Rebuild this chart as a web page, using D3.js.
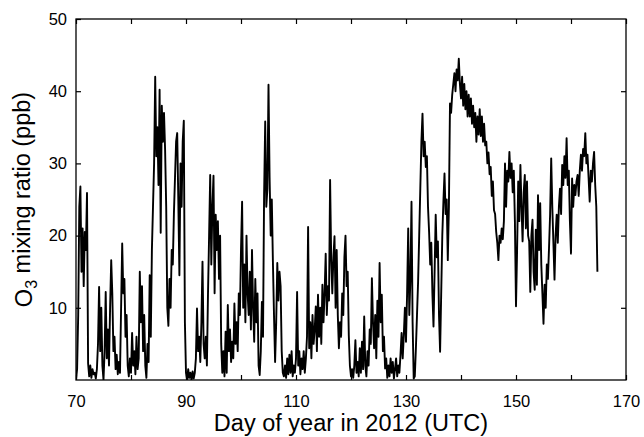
<!DOCTYPE html>
<html>
<head>
<meta charset="utf-8">
<script src="https://cdn.jsdelivr.net/npm/d3@7"></script>
<style>
body { margin: 0; background: #fff; }
text { font-family: "Liberation Sans", Arial, sans-serif; fill: #000; }
</style>
</head>
<body>
<svg width="644" height="437"></svg>
<script>
// O3 readings (ppb), one value every 0.2 day, in blocks of 10 days
var stepDays = 0.2;
var blockStarts = [70, 80, 90, 100, 110, 120, 130, 140, 150, 160];

var o3Day070 = [0, 1.5, 9, 24, 26.8, 15, 21, 13, 20.5, 18,
    25.9, 2.3, 0.5, 2, 0.3, 1.5, 0.8, 1, 0.2, 1.5,
    5, 12.9, 4, 10, 2, 0, 4, 12.2, 3, 7,
    2, 10, 16.6, 12, 4, 6, 1.5, 3.5, 0.8, 2.5,
    1, 10, 18.9, 12, 14, 6, 9, 2, 0.5, 3];
var o3Day080 = [1, 6.5, 2, 4, 0.8, 6, 1.5, 3, 15, 8,
    13, 4, 9, 2, 0.3, 5, 2.5, 14.5, 6, 18,
    24, 30, 42, 31, 35, 27, 40.2, 20.4, 38, 33,
    37, 31.9, 24, 10, 7.5, 14, 10, 18, 16, 23,
    28, 33, 34.2, 25, 14.5, 30, 24, 33, 35.9, 8];
var o3Day090 = [1, 0, 1.5, 0.3, 1, 0, 1.2, 0.2, 1, 3,
    9.9, 4, 6, 2.5, 8, 16.4, 5, 3, 6, 2,
    12, 20, 28.4, 16, 24, 28.3, 12, 22.9, 18, 22,
    14, 20, 5, 1, 4, 0.5, 6.7, 1, 10.4, 4,
    7, 2.5, 5.3, 3, 10.6, 5, 8, 4, 12, 9];
var o3Day100 = [18, 24.7, 10, 16, 8, 20, 12, 9, 15, 7,
    18, 10, 5.3, 14, 8, 12, 2, 0.7, 4, 10.8,
    6, 25.6, 35.8, 24, 26.5, 40.9, 28, 20, 25, 16.4,
    9, 2.5, 8, 16.2, 11, 15, 13, 4, 1, 0.5,
    2, 0.3, 3, 0.8, 3.5, 1, 4, 0.5, 2, 1];
var o3Day110 = [3, 12.2, 2, 4, 0.8, 3, 1.5, 4, 1, 3,
    6, 21.2, 4.4, 8, 3, 9, 5, 7, 10.2, 4,
    11.8, 6, 10, 5, 13.2, 8, 12, 17.5, 9, 13,
    11, 27.7, 16.8, 12, 17, 19.9, 10, 18, 9, 4.4,
    8, 6, 12, 9, 17, 20, 13, 15, 6.2, 2];
var o3Day120 = [0.5, 1.5, 0.3, 2, 5.5, 1, 2.5, 0.5, 4.4, 1,
    5.3, 1.5, 8.8, 2, 0.5, 4, 2, 7, 5, 14.1,
    8, 4.4, 9, 3, 11, 6, 16.2, 8, 11.8, 4,
    6, 1.6, 3, 0.3, 2, 0.5, 3, 1, 2.5, 0.2,
    1.5, 3, 0.5, 2, 1, 3.5, 6.5, 3, 6.2, 10];
var o3Day130 = [5.3, 12, 21, 9, 14, 24.7, 8, 0.2, 0.5, 4.4,
    9, 13.6, 20, 26.5, 33, 36.9, 31, 33, 29.5, 31,
    24, 20.5, 16, 19, 12, 7.4, 15, 22.9, 17, 19.2,
    9, 3.9, 12, 20, 24.7, 28.6, 23, 25, 16.6, 24,
    38.3, 37, 39.5, 41, 42.5, 40, 43, 41.5, 44.5, 41];
var o3Day140 = [39, 42, 38, 41, 37.5, 40, 36.5, 39.5, 36.5, 39,
    35.5, 38, 35, 37, 33, 36.5, 34, 37.5, 33.8, 36.5,
    33, 35.5, 32.5, 33, 30, 31.5, 28.5, 29.5, 25.5, 27.5,
    23.5, 23, 20.5, 19, 16.6, 20, 19, 21, 19.5, 22,
    30, 24, 29, 27.5, 31.6, 28, 30, 26, 29, 22];
var o3Day150 = [10.2, 18, 27.5, 22, 29.8, 24, 19.2, 26, 28.4, 21,
    27.5, 20, 19.2, 12.2, 20, 22.2, 15, 12.5, 20.8, 13.2,
    25.6, 18, 24.5, 16, 12, 7.8, 13.2, 10, 16, 14,
    18.2, 22.9, 30.7, 24, 19, 13.9, 20, 22.9, 19, 24,
    26.5, 23, 29.8, 27, 31, 28, 33.5, 27, 29, 22];
var o3Day160 = [17.5, 27.9, 24, 27, 25.6, 27.5, 28.4, 25.5, 29, 31.2,
    29, 32, 31, 34.2, 30, 31.2, 28, 24.7, 29, 27.5,
    30, 31.6, 27, 24, 15];

var xTickValues = [70, 80, 90, 100, 110, 120, 130, 140, 150, 160, 170];
var xLabelValues = [70, 90, 110, 130, 150, 170];
var yTickValues = [10, 20, 30, 40, 50];

var svg = d3.select('svg');
var svgWidth = +svg.attr('width');
var svgHeight = +svg.attr('height');

var padding = {t: 19, r: 18, b: 57, l: 76};
var chartWidth = svgWidth - padding.l - padding.r;
var chartHeight = svgHeight - padding.t - padding.b;

var xScale = d3.scaleLinear().domain([70, 170]).range([0, chartWidth]);
var yScale = d3.scaleLinear().domain([0, 50]).range([chartHeight, 0]);

var chart = svg.append('g')
    .attr('transform', 'translate(' + [padding.l, padding.t] + ')');

// build the time series from the blocks
var blocks = [o3Day070, o3Day080, o3Day090, o3Day100, o3Day110,
    o3Day120, o3Day130, o3Day140, o3Day150, o3Day160];
var series = [];
blocks.forEach(function(block, b) {
    block.forEach(function(v, i) {
        series.push({day: blockStarts[b] + i * stepDays, value: v});
    });
});

chart.append('clipPath').attr('id', 'plotClip')
    .append('rect').attr('width', chartWidth).attr('height', chartHeight);

var line = d3.line()
    .x(function(d) { return xScale(d.day); })
    .y(function(d) { return yScale(d.value); });

chart.append('path')
    .datum(series)
    .attr('clip-path', 'url(#plotClip)')
    .attr('d', line)
    .attr('fill', 'none')
    .attr('stroke', '#000')
    .attr('stroke-width', 1.9)
    .attr('stroke-linejoin', 'round');

// axes, ticks pointing inward
function labelFormat(d) { return xLabelValues.indexOf(d) >= 0 ? d : ''; }

var xAxisBottom = d3.axisBottom(xScale).tickValues(xTickValues)
    .tickSizeInner(-5).tickSizeOuter(0).tickPadding(15).tickFormat(labelFormat);
var xAxisTop = d3.axisTop(xScale).tickValues(xTickValues)
    .tickSizeInner(-5).tickSizeOuter(0).tickFormat('');
var yAxisLeft = d3.axisLeft(yScale).tickValues(yTickValues)
    .tickSizeInner(-5).tickSizeOuter(0).tickPadding(9);
var yAxisRight = d3.axisRight(yScale).tickValues([10, 20, 30, 40])
    .tickSizeInner(-5).tickSizeOuter(0).tickFormat('');

chart.append('g').attr('transform', 'translate(0,' + chartHeight + ')').call(xAxisBottom);
chart.append('g').call(xAxisTop);
chart.append('g').call(yAxisLeft);
chart.append('g').attr('transform', 'translate(' + chartWidth + ',0)').call(yAxisRight);

chart.selectAll('.domain').remove();
chart.selectAll('.tick line').attr('stroke', '#000').attr('stroke-width', 1.2);
chart.selectAll('.tick text')
    .attr('font-family', '"Liberation Sans", Arial, sans-serif')
    .attr('font-size', 16.5)
    .attr('fill', '#000');

chart.append('rect')
    .attr('width', chartWidth)
    .attr('height', chartHeight)
    .attr('fill', 'none')
    .attr('stroke', '#000')
    .attr('stroke-width', 1.3);

// axis titles
svg.append('text')
    .attr('x', padding.l + chartWidth / 2)
    .attr('y', 431)
    .attr('text-anchor', 'middle')
    .attr('font-size', 23.5)
    .text('Day of year in 2012 (UTC)');

var yTitle = svg.append('text')
    .attr('transform', 'translate(' + [32, padding.t + chartHeight / 2] + ')rotate(-90)')
    .attr('text-anchor', 'middle')
    .attr('font-size', 23.5);
yTitle.append('tspan').text('O');
yTitle.append('tspan').attr('dy', '0.3em').attr('font-size', 16).text('3');
yTitle.append('tspan').attr('dy', '-0.3em').text(' mixing ratio (ppb)');
</script>
</body>
</html>
